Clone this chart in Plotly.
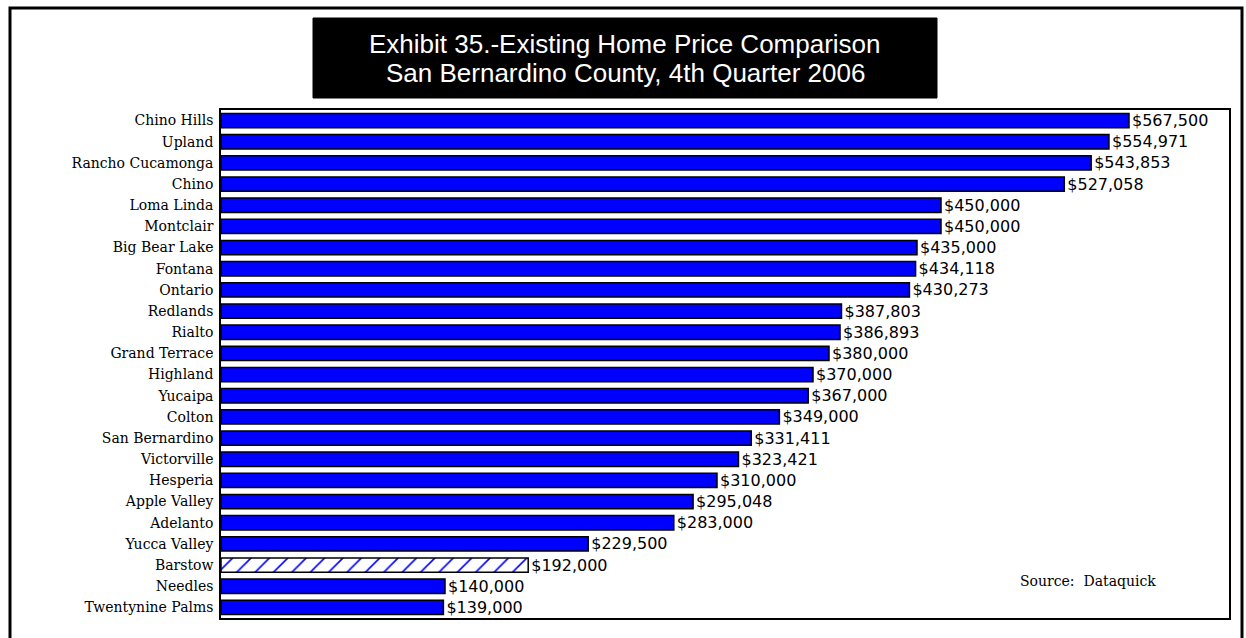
import plotly.graph_objects as go

cities = ["Chino Hills", "Upland", "Rancho Cucamonga", "Chino", "Loma Linda", "Montclair",
          "Big Bear Lake", "Fontana", "Ontario", "Redlands", "Rialto", "Grand Terrace",
          "Highland", "Yucaipa", "Colton", "San Bernardino", "Victorville", "Hesperia",
          "Apple Valley", "Adelanto", "Yucca Valley", "Barstow", "Needles", "Twentynine Palms"]
prices = [567500, 554971, 543853, 527058, 450000, 450000, 435000, 434118, 430273, 387803,
          386893, 380000, 370000, 367000, 349000, 331411, 323421, 310000, 295048, 283000,
          229500, 192000, 140000, 139000]
hatched = ["Barstow"]
title_lines = ["Exhibit 35.-Existing Home Price Comparison",
               "San Bernardino County, 4th Quarter 2006"]
source_text = "Source:  Dataquick"

solid_c = [c for c in cities if c not in hatched]
solid_v = [v for c, v in zip(cities, prices) if c not in hatched]
hat_c = [c for c in cities if c in hatched]
hat_v = [v for c, v in zip(cities, prices) if c in hatched]

def fmt(vals):
    return ["${:,}".format(v) for v in vals]

textfont = dict(family="DejaVu Sans", size=16, color="black")

fig = go.Figure()
fig.add_trace(go.Bar(
    x=solid_v, y=solid_c, orientation="h", width=0.68,
    marker=dict(color="#0000FF", line=dict(color="black", width=1.5)),
    text=fmt(solid_v), textposition="outside", cliponaxis=False, constraintext="none",
    textfont=textfont,
))
fig.add_trace(go.Bar(
    x=hat_v, y=hat_c, orientation="h", width=0.68,
    marker=dict(color="#FFFFFF", line=dict(color="black", width=1.5),
                pattern=dict(shape="/", fgcolor="#0000FF", bgcolor="#FFFFFF", size=13,
                             solidity=0.12, fillmode="replace")),
    text=fmt(hat_v), textposition="outside", cliponaxis=False, constraintext="none",
    textfont=textfont,
))

L, R, T, B = 221, 17, 110, 20
W, H = 1246, 638
pw, ph = W - L - R, H - T - B

def px(x):
    return (x - L) / pw

def py(y):
    return (H - B - y) / ph

fig.update_layout(
    width=W, height=H, margin=dict(l=L, r=R, t=T, b=B),
    paper_bgcolor="white", plot_bgcolor="white", showlegend=False, barmode="overlay",
    xaxis=dict(range=[0, 630000], showgrid=False, zeroline=False, showticklabels=False,
               showline=True, mirror=True, linecolor="black", linewidth=1.5, fixedrange=True),
    yaxis=dict(categoryorder="array", categoryarray=cities, autorange="reversed",
               showgrid=False, zeroline=False, showline=True,
               mirror=True, linecolor="black", linewidth=1.5, ticks="",
               tickfont=dict(family="DejaVu Serif", size=14, color="black"),
               ticklabelstandoff=3),
    shapes=[
        dict(type="rect", xref="paper", yref="paper", x0=px(10), x1=px(1242), y0=py(650), y1=py(8),
             line=dict(color="black", width=3), fillcolor="rgba(0,0,0,0)", layer="above"),
        dict(type="rect", xref="paper", yref="paper", x0=px(313), x1=px(937), y0=py(98), y1=py(18),
             line=dict(color="black", width=1), fillcolor="black"),
    ],
    annotations=[
        dict(text=title_lines[0], xref="paper", yref="paper", x=px(625), y=py(44),
             xanchor="center", yanchor="middle", showarrow=False,
             font=dict(family="Liberation Sans, Arial", size=26, color="white")),
        dict(text=title_lines[1], xref="paper", yref="paper", x=px(625), y=py(73),
             xanchor="center", yanchor="middle", showarrow=False,
             font=dict(family="Liberation Sans, Arial", size=26, color="white")),
        dict(text=source_text, xref="paper", yref="paper", x=px(1088), y=py(581),
             xanchor="center", yanchor="middle", showarrow=False,
             font=dict(family="DejaVu Serif", size=14, color="black")),
    ],
)

fig.write_html("out.html")
